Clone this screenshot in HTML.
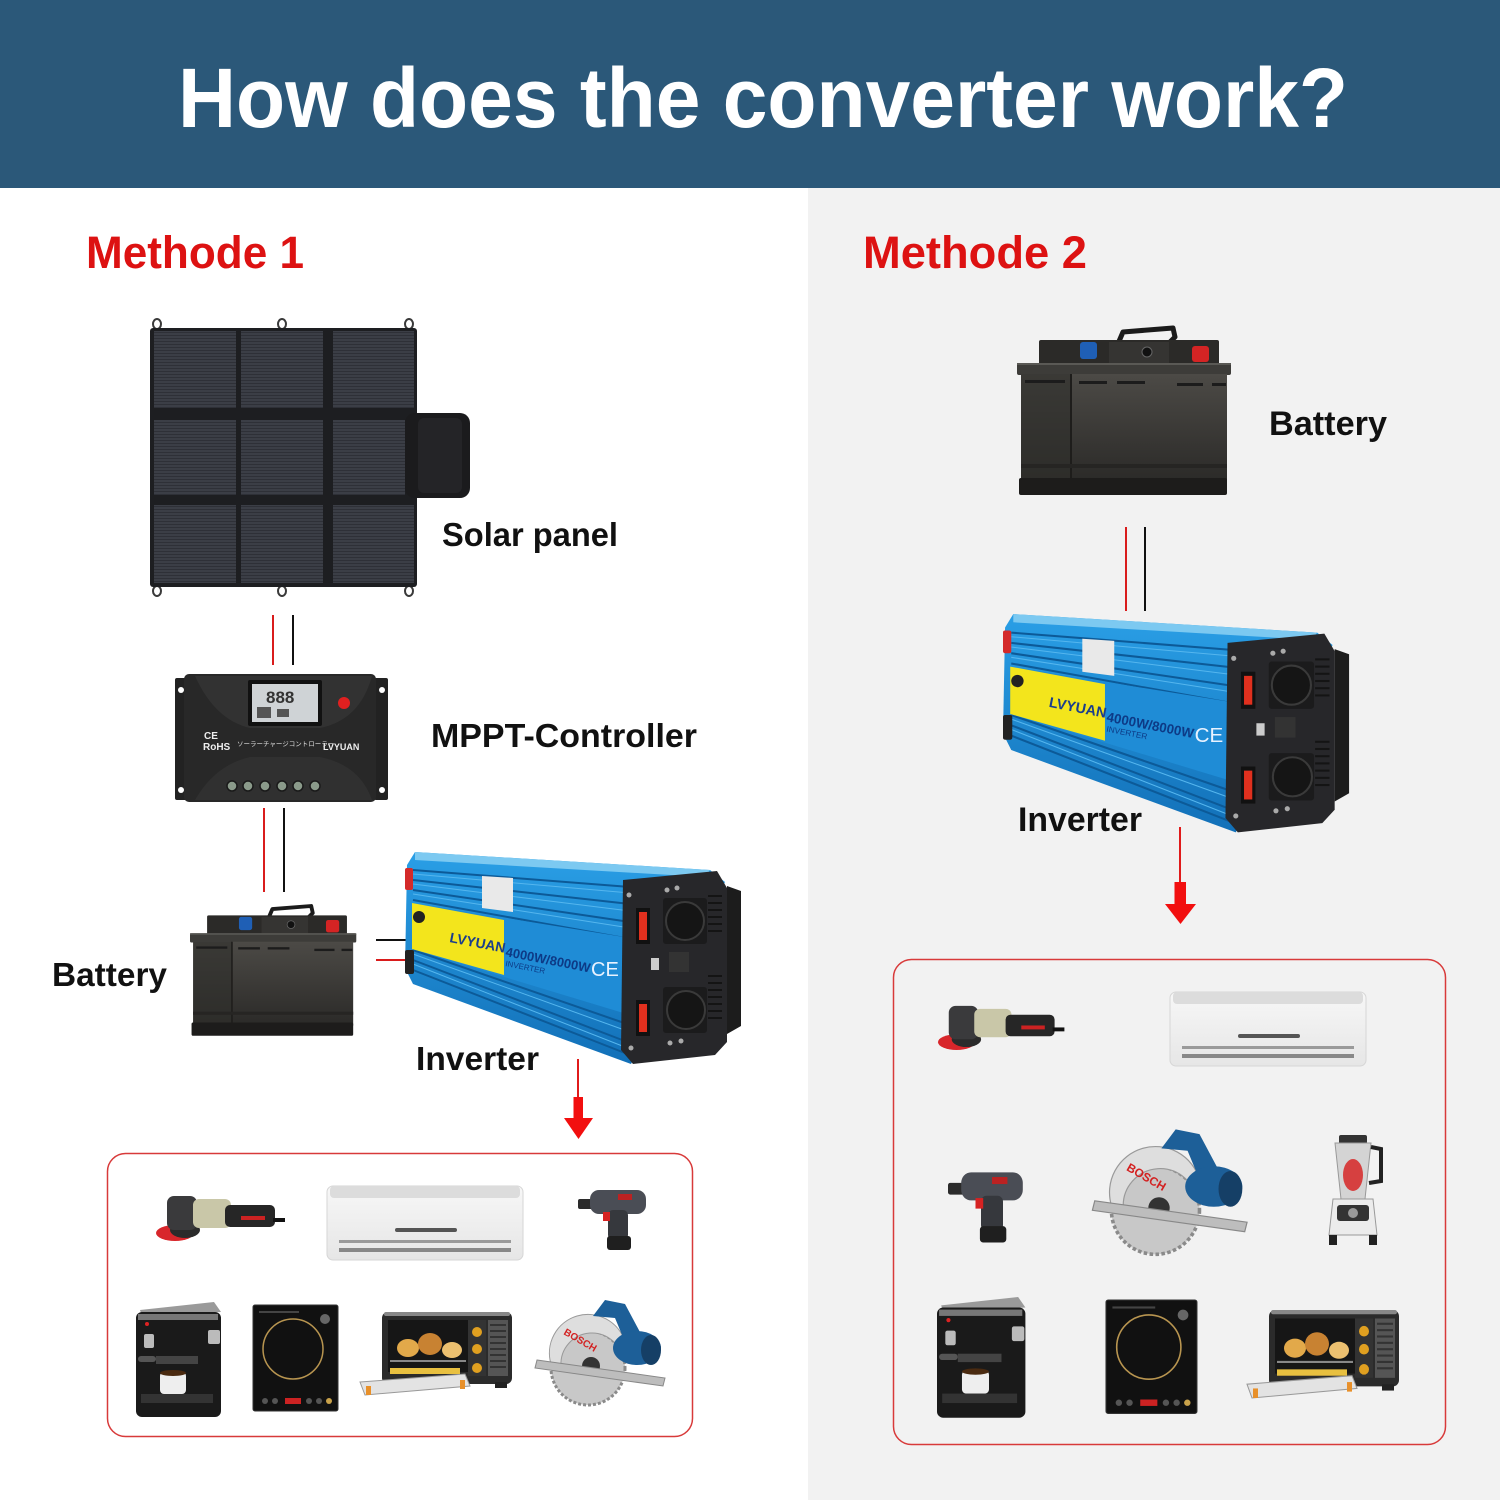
<!DOCTYPE html>
<html><head><meta charset="utf-8"><style>
html,body{margin:0;padding:0;background:#fff;}
svg{display:block;}
text{font-family:"Liberation Sans","Noto Sans CJK JP",sans-serif;}
</style></head><body>
<svg width="1500" height="1500" viewBox="0 0 1500 1500" xmlns="http://www.w3.org/2000/svg">
<defs>
  <pattern id="cellp" width="6" height="3" patternUnits="userSpaceOnUse">
    <rect width="6" height="3" fill="#3b3e46"/>
    <rect y="2" width="6" height="1" fill="#2e3037"/>
  </pattern>
  <linearGradient id="batG" x1="0" y1="0" x2="0" y2="1">
    <stop offset="0" stop-color="#4c4a46"/><stop offset="1" stop-color="#2b2a28"/>
  </linearGradient>
  <linearGradient id="invG" x1="0" y1="0" x2="0" y2="1">
    <stop offset="0" stop-color="#2a9fe6"/><stop offset="1" stop-color="#1270b8"/>
  </linearGradient>
  <linearGradient id="acG" x1="0" y1="0" x2="0" y2="1">
    <stop offset="0" stop-color="#f7f7f7"/><stop offset="1" stop-color="#e6e6e6"/>
  </linearGradient>

  <!-- Battery (local 214x168) -->
  <g id="battery">
    <path d="M100,18 L106,4 L156,0 L158,9 L140,27" fill="none" stroke="#1b1b1b" stroke-width="5" stroke-linejoin="round"/>
    <rect x="22" y="12" width="180" height="26" rx="2" fill="#2b2a28"/>
    <rect x="92" y="14" width="60" height="22" fill="#353432"/>
    <circle cx="130" cy="24" r="5" fill="#111" stroke="#666"/>
    <rect x="63" y="14" width="17" height="17" rx="3" fill="#1f5fb5"/>
    <rect x="175" y="18" width="17" height="16" rx="3" fill="#d42424"/>
    <rect x="0" y="35" width="214" height="12" rx="2" fill="#3d3c39"/>
    <rect x="0" y="35" width="214" height="2" fill="#5a5955"/>
    <rect x="4" y="46" width="206" height="108" fill="url(#batG)"/>
    <rect x="4" y="46" width="50" height="108" fill="#2f2e2b" opacity="0.6"/>
    <rect x="53" y="46" width="2" height="108" fill="#1e1d1b"/>
    <rect x="8" y="52" width="40" height="3" fill="#1c1c1c"/>
    <rect x="62" y="53" width="28" height="3" fill="#1c1c1c"/>
    <rect x="100" y="53" width="28" height="3" fill="#1c1c1c"/>
    <rect x="160" y="55" width="26" height="3" fill="#1c1c1c"/>
    <rect x="195" y="55" width="14" height="3" fill="#1c1c1c"/>
    <rect x="4" y="136" width="206" height="4" fill="#262523"/>
    <rect x="2" y="150" width="208" height="17" rx="2" fill="#1d1c1b"/>
  </g>

  <!-- Inverter (local ~336x215) -->
  <g id="inverter">
    <polygon points="2,15 10,2 305,20 320,32 226,214 8,134 0,118" fill="url(#invG)"/>
    <polygon points="10,2 305,20 300,27 10,10" fill="#7cc9f1"/>
    <g stroke="#0c5a98" stroke-width="2">
      <line x1="8" y1="20" x2="225" y2="37"/>
      <line x1="8" y1="30" x2="225" y2="54"/>
      <line x1="8" y1="40" x2="225" y2="72"/>
      <line x1="8" y1="50" x2="225" y2="89"/>
      <line x1="8" y1="100" x2="225" y2="175"/>
      <line x1="8" y1="110" x2="225" y2="193"/>
      <line x1="8" y1="120" x2="225" y2="205"/>
    </g>
    <g stroke="#55b6ee" stroke-width="1">
      <line x1="8" y1="24" x2="225" y2="43"/>
      <line x1="8" y1="34" x2="225" y2="61"/>
      <line x1="8" y1="44" x2="225" y2="78"/>
      <line x1="8" y1="104" x2="225" y2="182"/>
      <line x1="8" y1="114" x2="225" y2="199"/>
    </g>
    <polygon points="7,53 225,88 225,165 7,99" fill="#1f8cd6"/>
    <polygon points="7,53 99,70 99,125 7,99" fill="#f3e51c"/>
    <circle cx="14" cy="67" r="6" fill="#222"/>
    <polygon points="77,26 108,28 108,62 77,58" fill="#e9e9e9"/>
    <text x="44" y="92" font-size="14" font-weight="bold" fill="#1b3e8c" transform="rotate(11 44 92)">LVYUAN</text>
    <text x="100" y="106" font-size="13" font-weight="bold" fill="#0d3a86" transform="rotate(11 100 106)">4000W/8000W</text>
    <text x="100" y="116" font-size="8" fill="#0d3a86" transform="rotate(11 100 116)">INVERTER</text>
    <text x="186" y="126" font-size="20" fill="#e8f2ff">CE</text>
    <rect x="0" y="18" width="8" height="22" rx="2" fill="#d42a2a"/>
    <rect x="0" y="100" width="9" height="24" rx="2" fill="#222"/>
    <polygon points="218,30 312,21 322,38 322,192 310,205 228,214 216,200" fill="#27272a"/>
    <g fill="#141414">
      <rect x="303" y="45" width="14" height="2"/><rect x="303" y="52" width="14" height="2"/>
      <rect x="303" y="59" width="14" height="2"/><rect x="303" y="66" width="14" height="2"/>
      <rect x="303" y="73" width="14" height="2"/><rect x="303" y="80" width="14" height="2"/>
      <rect x="303" y="125" width="14" height="2"/><rect x="303" y="132" width="14" height="2"/>
      <rect x="303" y="139" width="14" height="2"/><rect x="303" y="146" width="14" height="2"/>
      <rect x="303" y="153" width="14" height="2"/><rect x="303" y="160" width="14" height="2"/>
      <rect x="303" y="167" width="14" height="2"/>
    </g>
    <rect x="258" y="48" width="44" height="46" rx="3" fill="#1b1b1c"/>
    <circle cx="280" cy="71" r="19" fill="#151515" stroke="#3a3a3a" stroke-width="2"/>
    <rect x="258" y="137" width="44" height="46" rx="3" fill="#1b1b1c"/>
    <circle cx="281" cy="160" r="19" fill="#151515" stroke="#3a3a3a" stroke-width="2"/>
    <rect x="231" y="58" width="14" height="36" fill="#111"/>
    <rect x="234" y="62" width="8" height="28" fill="#e0301e"/>
    <rect x="231" y="150" width="14" height="36" fill="#111"/>
    <rect x="234" y="154" width="8" height="28" fill="#e0301e"/>
    <rect x="264" y="102" width="20" height="20" fill="#333"/>
    <rect x="246" y="108" width="8" height="12" fill="#ccc"/>
    <circle cx="262" cy="40" r="2.5" fill="#aaa"/><circle cx="272" cy="38" r="2.5" fill="#aaa"/>
    <circle cx="224" cy="45" r="2.5" fill="#aaa"/><circle cx="226" cy="198" r="2.5" fill="#aaa"/>
    <circle cx="265" cy="193" r="2.5" fill="#aaa"/><circle cx="276" cy="191" r="2.5" fill="#aaa"/>
    <polygon points="322,36 336,41 336,176 322,184" fill="#1c1c1c"/>
  </g>

  <!-- Grinder 130x55 -->
  <g id="grinder">
    <ellipse cx="20" cy="43" rx="19" ry="8" fill="#d8262b"/>
    <ellipse cx="30" cy="40" rx="15" ry="8" fill="#2b2b2b"/>
    <rect x="12" y="6" width="30" height="34" rx="7" fill="#3a3a3c"/>
    <rect x="38" y="9" width="38" height="29" rx="6" fill="#c9c7a8"/>
    <rect x="70" y="15" width="50" height="22" rx="5" fill="#262626"/>
    <rect x="86" y="26" width="24" height="4" fill="#c22"/>
    <rect x="118" y="28" width="12" height="4" fill="#111"/>
  </g>
  <!-- AC 196x74 -->
  <g id="ac">
    <rect x="0" y="0" width="196" height="74" rx="6" fill="url(#acG)" stroke="#d6d6d6"/>
    <rect x="3" y="0" width="190" height="12" rx="4" fill="#dcdcdc"/>
    <rect x="68" y="42" width="62" height="4" rx="2" fill="#555"/>
    <rect x="12" y="54" width="172" height="3" fill="#9a9a9a"/>
    <rect x="12" y="62" width="172" height="4" fill="#888"/>
  </g>
  <!-- Drill 70x62 -->
  <g id="drill">
    <rect x="0" y="11" width="16" height="10" rx="2" fill="#2b2b2b"/>
    <rect x="12" y="2" width="56" height="24" rx="9" fill="#4a4d55"/>
    <rect x="40" y="6" width="14" height="6" fill="#b22"/>
    <rect x="30" y="22" width="20" height="30" rx="5" fill="#36383d"/>
    <rect x="25" y="24" width="7" height="9" fill="#d62222"/>
    <rect x="29" y="48" width="24" height="14" rx="3" fill="#1f1f1f"/>
  </g>
  <!-- Coffee 85x115 -->
  <g id="coffee">
    <polygon points="4,8 78,0 85,10 6,14" fill="#9a9a9a"/>
    <rect x="0" y="10" width="85" height="105" rx="6" fill="#1a1a1a"/>
    <rect x="2" y="12" width="80" height="6" fill="#777"/>
    <rect x="8" y="32" width="10" height="14" rx="2" fill="#bbb"/>
    <rect x="72" y="28" width="12" height="14" rx="2" fill="#bbb"/>
    <rect x="20" y="54" width="42" height="8" fill="#444"/>
    <rect x="2" y="54" width="18" height="6" rx="3" fill="#555"/>
    <rect x="24" y="70" width="26" height="22" rx="4" fill="#eee"/>
    <ellipse cx="37" cy="71" rx="13" ry="3" fill="#4a2a10"/>
    <rect x="5" y="92" width="72" height="9" fill="#333"/>
    <circle cx="11" cy="22" r="2" fill="#d22"/>
  </g>
  <!-- Cooktop 85x106 -->
  <g id="cooktop">
    <rect x="0" y="0" width="85" height="106" rx="2" fill="#111" stroke="#333"/>
    <circle cx="40" cy="44" r="30" fill="none" stroke="#b89550" stroke-width="1.5"/>
    <circle cx="72" cy="14" r="5" fill="#666"/>
    <rect x="6" y="6" width="40" height="2" fill="#444"/>
    <g fill="#555"><circle cx="12" cy="96" r="3"/><circle cx="22" cy="96" r="3"/><circle cx="56" cy="96" r="3"/><circle cx="66" cy="96" r="3"/></g>
    <rect x="32" y="93" width="16" height="6" fill="#c22"/>
    <circle cx="76" cy="96" r="3" fill="#c9a24a"/>
  </g>
  <!-- Oven 153x83 -->
  <g id="oven">
    <rect x="22" y="0" width="130" height="72" rx="6" fill="#2b2b2b"/>
    <rect x="24" y="0" width="126" height="4" rx="2" fill="#888"/>
    <rect x="28" y="8" width="80" height="52" fill="#161616"/>
    <ellipse cx="48" cy="36" rx="11" ry="9" fill="#e2a94a"/>
    <ellipse cx="70" cy="32" rx="12" ry="11" fill="#c88232"/>
    <ellipse cx="92" cy="38" rx="10" ry="8" fill="#ecc070"/>
    <rect x="30" y="48" width="76" height="2" fill="#888"/>
    <rect x="108" y="8" width="18" height="56" fill="#333"/>
    <circle cx="117" cy="20" r="5" fill="#e0a020"/><circle cx="117" cy="37" r="5" fill="#e0a020"/><circle cx="117" cy="56" r="5" fill="#e0a020"/>
    <rect x="128" y="8" width="20" height="56" fill="#555"/>
    <g fill="#333"><rect x="130" y="12" width="16" height="2"/><rect x="130" y="18" width="16" height="2"/><rect x="130" y="24" width="16" height="2"/><rect x="130" y="30" width="16" height="2"/><rect x="130" y="36" width="16" height="2"/><rect x="130" y="42" width="16" height="2"/><rect x="130" y="48" width="16" height="2"/><rect x="130" y="54" width="16" height="2"/></g>
    <rect x="30" y="56" width="70" height="6" fill="#e8c040"/>
    <polygon points="0,70 105,62 110,74 5,83" fill="#e3e3e3" stroke="#999"/>
    <rect x="6" y="74" width="5" height="9" fill="#e8902a"/>
    <rect x="100" y="68" width="5" height="9" fill="#e8902a"/>
    <rect x="135" y="70" width="12" height="6" fill="#222"/>
  </g>
  <!-- Saw 135x108 -->
  <g id="saw">
    <circle cx="55" cy="70" r="37" fill="#c8c8c8" stroke="#8a8a8a" stroke-width="3" stroke-dasharray="3 2"/>
    <path d="M18,66 A38,38 0 0 1 92,44 L90,64 A30,30 0 0 0 28,68 Z" fill="#dedede" stroke="#999"/>
    <circle cx="58" cy="68" r="9" fill="#333"/>
    <path d="M60,18 L72,2 L92,6 L108,36 L92,44 L82,20 Z" fill="#1d5f98"/>
    <ellipse cx="104" cy="50" rx="24" ry="17" fill="#1d5f98"/>
    <ellipse cx="118" cy="52" rx="10" ry="15" fill="#153f66"/>
    <polygon points="4,62 132,80 130,88 2,70" fill="#bdbdbd" stroke="#888"/>
    <text x="30" y="36" font-size="10" font-weight="bold" fill="#d32020" transform="rotate(30 30 36)">BOSCH</text>
  </g>
  <!-- Blender 56x110 -->
  <g id="blender">
    <rect x="12" y="0" width="28" height="9" rx="2" fill="#333"/>
    <polygon points="8,8 44,8 38,64 14,64" fill="#d4d4d4" stroke="#999"/>
    <ellipse cx="26" cy="40" rx="10" ry="16" fill="#d64040"/>
    <path d="M44,12 L54,14 L54,46 L42,48" fill="none" stroke="#222" stroke-width="4"/>
    <polygon points="6,64 46,64 50,100 2,100" fill="#ececec" stroke="#999"/>
    <rect x="10" y="70" width="32" height="16" rx="3" fill="#333"/>
    <circle cx="26" cy="78" r="5" fill="#999"/>
    <rect x="2" y="100" width="8" height="10" fill="#222"/><rect x="42" y="100" width="8" height="10" fill="#222"/>
  </g>
</defs>

<!-- Backgrounds -->
<rect x="0" y="0" width="1500" height="1500" fill="#ffffff"/>
<rect x="808" y="188" width="692" height="1312" fill="#f2f2f2"/>
<rect x="0" y="0" width="1500" height="188" fill="#2b5879"/>
<text x="178" y="127" font-size="84" font-weight="bold" fill="#ffffff" textLength="1170" lengthAdjust="spacingAndGlyphs">How does the converter work?</text>

<text x="86" y="268" font-size="45" font-weight="bold" fill="#dd1212" textLength="218" lengthAdjust="spacingAndGlyphs">Methode 1</text>
<text x="863" y="268" font-size="45" font-weight="bold" fill="#dd1212" textLength="224" lengthAdjust="spacingAndGlyphs">Methode 2</text>

<!-- Solar panel -->
<g fill="none" stroke="#3a3a3a" stroke-width="2">
  <ellipse cx="157" cy="324" rx="4" ry="5"/><ellipse cx="282" cy="324" rx="4" ry="5"/><ellipse cx="409" cy="324" rx="4" ry="5"/>
  <ellipse cx="157" cy="591" rx="4" ry="5"/><ellipse cx="282" cy="591" rx="4" ry="5"/><ellipse cx="409" cy="591" rx="4" ry="5"/>
</g>
<rect x="150" y="328" width="267" height="259" rx="3" fill="#1d1e21"/>
<rect x="405" y="413" width="65" height="85" rx="10" fill="#1b1b1d"/>
<rect x="418" y="418" width="44" height="75" rx="6" fill="#242427"/>
<g fill="url(#cellp)">
  <rect x="154" y="331" width="82" height="77"/><rect x="241" y="331" width="82" height="77"/><rect x="333" y="331" width="81" height="77"/>
  <rect x="154" y="420" width="82" height="75"/><rect x="241" y="420" width="82" height="75"/><rect x="333" y="420" width="72" height="75"/>
  <rect x="154" y="505" width="82" height="78"/><rect x="241" y="505" width="82" height="78"/><rect x="333" y="505" width="81" height="78"/>
</g>
<text x="442" y="546" font-size="33" font-weight="bold" fill="#111" textLength="176" lengthAdjust="spacingAndGlyphs">Solar panel</text>

<!-- connectors solar -> controller -->
<line x1="273" y1="615" x2="273" y2="665" stroke="#d91c1c" stroke-width="2"/>
<line x1="293" y1="615" x2="293" y2="665" stroke="#111" stroke-width="2"/>

<!-- MPPT controller -->
<rect x="175" y="678" width="14" height="122" rx="2" fill="#222"/>
<rect x="374" y="678" width="14" height="122" rx="2" fill="#222"/>
<circle cx="181" cy="690" r="3" fill="#fff"/><circle cx="181" cy="790" r="3" fill="#fff"/>
<circle cx="382" cy="690" r="3" fill="#fff"/><circle cx="382" cy="790" r="3" fill="#fff"/>
<rect x="184" y="674" width="192" height="128" rx="5" fill="#282828"/>
<path d="M195,676 Q215,720 250,728 L320,728 Q360,720 372,676 Z" fill="#323232"/>
<path d="M195,800 Q215,765 250,757 L320,757 Q360,765 372,800 Z" fill="#303030"/>
<rect x="248" y="680" width="74" height="46" rx="2" fill="#111"/>
<rect x="252" y="684" width="66" height="38" fill="#cfd3d6"/>
<text x="266" y="703" font-size="17" font-weight="bold" fill="#333">888</text>
<rect x="257" y="707" width="14" height="11" fill="#555"/>
<rect x="277" y="709" width="12" height="8" fill="#555"/>
<circle cx="344" cy="703" r="6" fill="#e02020"/>
<text x="204" y="739" font-size="10" font-weight="bold" fill="#eee">CE</text>
<text x="203" y="750" font-size="10" font-weight="bold" fill="#eee">RoHS</text>
<text x="237" y="746" font-size="6.5" fill="#ddd">ソーラーチャージコントローラー</text>
<text x="323" y="750" font-size="9" font-weight="bold" fill="#eee">LVYUAN</text>
<g fill="#8a9a8a" stroke="#1a1a1a" stroke-width="1.5">
  <circle cx="232" cy="786" r="5"/><circle cx="248" cy="786" r="5"/><circle cx="265" cy="786" r="5"/>
  <circle cx="282" cy="786" r="5"/><circle cx="298" cy="786" r="5"/><circle cx="315" cy="786" r="5"/>
</g>
<text x="431" y="747" font-size="33" font-weight="bold" fill="#111" textLength="266" lengthAdjust="spacingAndGlyphs">MPPT-Controller</text>

<!-- connectors controller -> battery -->
<line x1="264" y1="808" x2="264" y2="892" stroke="#d91c1c" stroke-width="2"/>
<line x1="284" y1="808" x2="284" y2="892" stroke="#111" stroke-width="2"/>

<!-- Left battery -->
<use href="#battery" transform="translate(190,906) scale(0.777)"/>
<text x="52" y="986" font-size="33" font-weight="bold" fill="#111" textLength="115" lengthAdjust="spacingAndGlyphs">Battery</text>

<!-- battery -> inverter -->
<line x1="376" y1="940" x2="411" y2="940" stroke="#111" stroke-width="2"/>
<line x1="376" y1="960" x2="411" y2="960" stroke="#d91c1c" stroke-width="2"/>

<!-- Left inverter -->
<use href="#inverter" transform="translate(405,850)"/>
<text x="416" y="1070" font-size="33" font-weight="bold" fill="#111" textLength="123" lengthAdjust="spacingAndGlyphs">Inverter</text>

<!-- Left arrow -->
<line x1="578" y1="1059" x2="578" y2="1098" stroke="#e01b1b" stroke-width="2"/>
<rect x="573.5" y="1097" width="9.5" height="22" fill="#f20f0f"/>
<polygon points="564,1118 593,1118 578.5,1139" fill="#f20f0f"/>

<!-- Left appliance box -->
<rect x="107.5" y="1153.5" width="585" height="283" rx="18" fill="#ffffff" stroke="#d83a3a" stroke-width="1.5"/>
<use href="#grinder" transform="translate(155,1190)"/>
<use href="#ac" transform="translate(327,1186)"/>
<use href="#drill" transform="translate(578,1188)"/>
<use href="#coffee" transform="translate(136,1302)"/>
<use href="#cooktop" transform="translate(253,1305)"/>
<use href="#oven" transform="translate(360,1312)"/>
<use href="#saw" transform="translate(533,1298)"/>

<!-- Right side -->
<use href="#battery" transform="translate(1017,328)"/>
<text x="1269" y="435" font-size="34" font-weight="bold" fill="#111" textLength="118" lengthAdjust="spacingAndGlyphs">Battery</text>

<line x1="1126" y1="527" x2="1126" y2="611" stroke="#d91c1c" stroke-width="2"/>
<line x1="1145" y1="527" x2="1145" y2="611" stroke="#111" stroke-width="2"/>

<use href="#inverter" transform="translate(1003,612) scale(1.03)"/>
<text x="1018" y="831" font-size="34" font-weight="bold" fill="#111" textLength="124" lengthAdjust="spacingAndGlyphs">Inverter</text>

<line x1="1180" y1="827" x2="1180" y2="884" stroke="#e01b1b" stroke-width="2"/>
<rect x="1174.5" y="882" width="11.5" height="23" fill="#f20f0f"/>
<polygon points="1165,904 1196,904 1180.5,924" fill="#f20f0f"/>

<rect x="893.5" y="959.5" width="552" height="485" rx="18" fill="none" stroke="#d83a3a" stroke-width="1.5"/>
<use href="#grinder" transform="translate(937,1000) scale(0.98)"/>
<use href="#ac" transform="translate(1170,992)"/>
<use href="#drill" transform="translate(948,1170) scale(1.1,1.17)"/>
<use href="#saw" transform="translate(1090,1127) scale(1.19)"/>
<use href="#blender" transform="translate(1327,1135)"/>
<use href="#coffee" transform="translate(937,1297) scale(1.04,1.05)"/>
<use href="#cooktop" transform="translate(1106,1300) scale(1.07)"/>
<use href="#oven" transform="translate(1247,1310) scale(1.0,1.06)"/>
</svg>
</body></html>
